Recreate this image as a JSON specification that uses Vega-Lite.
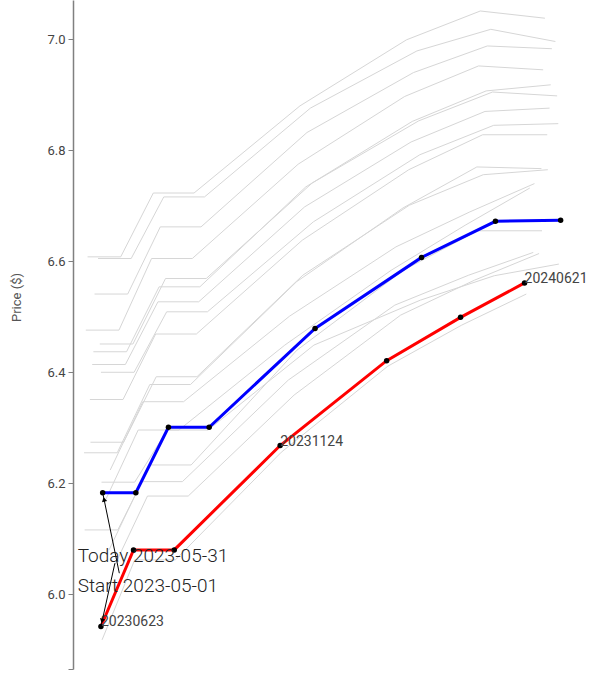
{
  "$schema": "https://vega.github.io/schema/vega-lite/v6.json",
  "width": 540,
  "height": 669,
  "autosize": {"type": "none"},
  "padding": {"left": 73, "top": 0, "right": 0, "bottom": 8},
  "config": {"view": {"stroke": null}, "font": "Roboto"},
  "datasets": {
    "curves": [
      {"c": "L1", "k": "grey", "d": 12.5, "p": 6.608}, {"c": "L1", "k": "grey", "d": 41, "p": 6.608}, {"c": "L1", "k": "grey", "d": 69, "p": 6.723}, {"c": "L1", "k": "grey", "d": 104, "p": 6.723}, {"c": "L1", "k": "grey", "d": 195, "p": 6.880}, {"c": "L1", "k": "grey", "d": 286.5, "p": 6.999}, {"c": "L1", "k": "grey", "d": 350, "p": 7.051}, {"c": "L1", "k": "grey", "d": 405.5, "p": 7.038},
      {"c": "L2", "k": "grey", "d": 21.5, "p": 6.605}, {"c": "L2", "k": "grey", "d": 50, "p": 6.605}, {"c": "L2", "k": "grey", "d": 78, "p": 6.716}, {"c": "L2", "k": "grey", "d": 113, "p": 6.716}, {"c": "L2", "k": "grey", "d": 204, "p": 6.876}, {"c": "L2", "k": "grey", "d": 295.5, "p": 6.979}, {"c": "L2", "k": "grey", "d": 359, "p": 7.018}, {"c": "L2", "k": "grey", "d": 414.5, "p": 6.996},
      {"c": "L3", "k": "grey", "d": 18.5, "p": 6.541}, {"c": "L3", "k": "grey", "d": 47, "p": 6.541}, {"c": "L3", "k": "grey", "d": 75, "p": 6.662}, {"c": "L3", "k": "grey", "d": 110, "p": 6.662}, {"c": "L3", "k": "grey", "d": 201, "p": 6.832}, {"c": "L3", "k": "grey", "d": 292.5, "p": 6.940}, {"c": "L3", "k": "grey", "d": 356, "p": 6.988}, {"c": "L3", "k": "grey", "d": 411.5, "p": 6.983},
      {"c": "L4", "k": "grey", "d": 11, "p": 6.476}, {"c": "L4", "k": "grey", "d": 39.5, "p": 6.476}, {"c": "L4", "k": "grey", "d": 67.5, "p": 6.605}, {"c": "L4", "k": "grey", "d": 102.5, "p": 6.605}, {"c": "L4", "k": "grey", "d": 193.5, "p": 6.775}, {"c": "L4", "k": "grey", "d": 285, "p": 6.897}, {"c": "L4", "k": "grey", "d": 348.5, "p": 6.952}, {"c": "L4", "k": "grey", "d": 404, "p": 6.945},
      {"c": "L5", "k": "grey", "d": 23, "p": 6.451}, {"c": "L5", "k": "grey", "d": 51.5, "p": 6.451}, {"c": "L5", "k": "grey", "d": 79.5, "p": 6.569}, {"c": "L5", "k": "grey", "d": 114.5, "p": 6.569}, {"c": "L5", "k": "grey", "d": 205.5, "p": 6.741}, {"c": "L5", "k": "grey", "d": 297, "p": 6.853}, {"c": "L5", "k": "grey", "d": 360.5, "p": 6.905}, {"c": "L5", "k": "grey", "d": 416, "p": 6.898},
      {"c": "L6", "k": "grey", "d": 17.5, "p": 6.437}, {"c": "L6", "k": "grey", "d": 46, "p": 6.437}, {"c": "L6", "k": "grey", "d": 74, "p": 6.554}, {"c": "L6", "k": "grey", "d": 109, "p": 6.554}, {"c": "L6", "k": "grey", "d": 200, "p": 6.734}, {"c": "L6", "k": "grey", "d": 291.5, "p": 6.852}, {"c": "L6", "k": "grey", "d": 355, "p": 6.907}, {"c": "L6", "k": "grey", "d": 410.5, "p": 6.918},
      {"c": "L7", "k": "grey", "d": 16.5, "p": 6.414}, {"c": "L7", "k": "grey", "d": 45, "p": 6.414}, {"c": "L7", "k": "grey", "d": 73, "p": 6.527}, {"c": "L7", "k": "grey", "d": 108, "p": 6.527}, {"c": "L7", "k": "grey", "d": 199, "p": 6.698}, {"c": "L7", "k": "grey", "d": 290.5, "p": 6.815}, {"c": "L7", "k": "grey", "d": 354, "p": 6.870}, {"c": "L7", "k": "grey", "d": 409.5, "p": 6.876},
      {"c": "L8", "k": "grey", "d": 24, "p": 6.400}, {"c": "L8", "k": "grey", "d": 52.5, "p": 6.400}, {"c": "L8", "k": "grey", "d": 80.5, "p": 6.509}, {"c": "L8", "k": "grey", "d": 115.5, "p": 6.509}, {"c": "L8", "k": "grey", "d": 206.5, "p": 6.671}, {"c": "L8", "k": "grey", "d": 298, "p": 6.792}, {"c": "L8", "k": "grey", "d": 361.5, "p": 6.845}, {"c": "L8", "k": "grey", "d": 417, "p": 6.848},
      {"c": "L9", "k": "grey", "d": 14.5, "p": 6.351}, {"c": "L9", "k": "grey", "d": 43, "p": 6.351}, {"c": "L9", "k": "grey", "d": 71, "p": 6.469}, {"c": "L9", "k": "grey", "d": 106, "p": 6.469}, {"c": "L9", "k": "grey", "d": 197, "p": 6.638}, {"c": "L9", "k": "grey", "d": 288.5, "p": 6.765}, {"c": "L9", "k": "grey", "d": 352, "p": 6.828}, {"c": "L9", "k": "grey", "d": 407.5, "p": 6.828},
      {"c": "L10", "k": "grey", "d": 15, "p": 6.274}, {"c": "L10", "k": "grey", "d": 43.5, "p": 6.274}, {"c": "L10", "k": "grey", "d": 71.5, "p": 6.392}, {"c": "L10", "k": "grey", "d": 106.5, "p": 6.392}, {"c": "L10", "k": "grey", "d": 197.5, "p": 6.575}, {"c": "L10", "k": "grey", "d": 289, "p": 6.701}, {"c": "L10", "k": "grey", "d": 352.5, "p": 6.756}, {"c": "L10", "k": "grey", "d": 408, "p": 6.765},
      {"c": "L11", "k": "grey", "d": 9.5, "p": 6.255}, {"c": "L11", "k": "grey", "d": 38, "p": 6.255}, {"c": "L11", "k": "grey", "d": 66, "p": 6.378}, {"c": "L11", "k": "grey", "d": 101, "p": 6.378}, {"c": "L11", "k": "grey", "d": 192, "p": 6.563}, {"c": "L11", "k": "grey", "d": 283.5, "p": 6.696}, {"c": "L11", "k": "grey", "d": 347, "p": 6.770}, {"c": "L11", "k": "grey", "d": 402.5, "p": 6.767},
      {"c": "L12", "k": "grey", "d": 24.5, "p": 6.202}, {"c": "L12", "k": "grey", "d": 53, "p": 6.202}, {"c": "L12", "k": "grey", "d": 81, "p": 6.296}, {"c": "L12", "k": "grey", "d": 116, "p": 6.296}, {"c": "L12", "k": "grey", "d": 207, "p": 6.449}, {"c": "L12", "k": "grey", "d": 298.5, "p": 6.530}, {"c": "L12", "k": "grey", "d": 362, "p": 6.574}, {"c": "L12", "k": "grey", "d": 417.5, "p": 6.595},
      {"c": "L13", "k": "grey", "d": 10, "p": 6.116}, {"c": "L13", "k": "grey", "d": 38.5, "p": 6.116}, {"c": "L13", "k": "grey", "d": 66.5, "p": 6.233}, {"c": "L13", "k": "grey", "d": 101.5, "p": 6.233}, {"c": "L13", "k": "grey", "d": 192.5, "p": 6.440}, {"c": "L13", "k": "grey", "d": 284, "p": 6.584}, {"c": "L13", "k": "grey", "d": 347.5, "p": 6.655}, {"c": "L13", "k": "grey", "d": 403, "p": 6.655},
      {"c": "R1", "k": "grey", "d": 32, "p": 6.224}, {"c": "R1", "k": "grey", "d": 60, "p": 6.347}, {"c": "R1", "k": "grey", "d": 95, "p": 6.347}, {"c": "R1", "k": "grey", "d": 186, "p": 6.501}, {"c": "R1", "k": "grey", "d": 277.5, "p": 6.626}, {"c": "R1", "k": "grey", "d": 341, "p": 6.689}, {"c": "R1", "k": "grey", "d": 396.5, "p": 6.740},
      {"c": "R2", "k": "grey", "d": 28, "p": 6.170}, {"c": "R2", "k": "grey", "d": 56, "p": 6.296}, {"c": "R2", "k": "grey", "d": 91, "p": 6.296}, {"c": "R2", "k": "grey", "d": 182, "p": 6.449}, {"c": "R2", "k": "grey", "d": 273.5, "p": 6.584}, {"c": "R2", "k": "grey", "d": 337, "p": 6.665}, {"c": "R2", "k": "grey", "d": 392.5, "p": 6.732},
      {"c": "R3", "k": "grey", "d": 31, "p": 6.080}, {"c": "R3", "k": "grey", "d": 59, "p": 6.203}, {"c": "R3", "k": "grey", "d": 94, "p": 6.203}, {"c": "R3", "k": "grey", "d": 185, "p": 6.386}, {"c": "R3", "k": "grey", "d": 276.5, "p": 6.521}, {"c": "R3", "k": "grey", "d": 340, "p": 6.575}, {"c": "R3", "k": "grey", "d": 395.5, "p": 6.616},
      {"c": "R4", "k": "grey", "d": 36, "p": 6.053}, {"c": "R4", "k": "grey", "d": 64, "p": 6.177}, {"c": "R4", "k": "grey", "d": 99, "p": 6.177}, {"c": "R4", "k": "grey", "d": 190, "p": 6.359}, {"c": "R4", "k": "grey", "d": 281.5, "p": 6.503}, {"c": "R4", "k": "grey", "d": 345, "p": 6.566}, {"c": "R4", "k": "grey", "d": 400.5, "p": 6.614},
      {"c": "R5", "k": "grey", "d": 25, "p": 5.918}, {"c": "R5", "k": "grey", "d": 53, "p": 6.062}, {"c": "R5", "k": "grey", "d": 88, "p": 6.062}, {"c": "R5", "k": "grey", "d": 179, "p": 6.256}, {"c": "R5", "k": "grey", "d": 270.5, "p": 6.411}, {"c": "R5", "k": "grey", "d": 334, "p": 6.485}, {"c": "R5", "k": "grey", "d": 389.5, "p": 6.541},
      {"c": "Start", "k": "red", "d": 24, "p": 5.942}, {"c": "Start", "k": "red", "d": 52, "p": 6.080}, {"c": "Start", "k": "red", "d": 87, "p": 6.080}, {"c": "Start", "k": "red", "d": 178, "p": 6.268}, {"c": "Start", "k": "red", "d": 269.5, "p": 6.421}, {"c": "Start", "k": "red", "d": 333, "p": 6.499}, {"c": "Start", "k": "red", "d": 388, "p": 6.561},
      {"c": "Today", "k": "blue", "d": 25.5, "p": 6.183}, {"c": "Today", "k": "blue", "d": 54, "p": 6.183}, {"c": "Today", "k": "blue", "d": 82, "p": 6.301}, {"c": "Today", "k": "blue", "d": 117, "p": 6.301}, {"c": "Today", "k": "blue", "d": 208, "p": 6.479}, {"c": "Today", "k": "blue", "d": 299.5, "p": 6.607}, {"c": "Today", "k": "blue", "d": 363, "p": 6.672}, {"c": "Today", "k": "blue", "d": 419, "p": 6.674}
    ],
    "labels": [
      {"d": 24, "p": 5.942, "t": "20230623"},
      {"d": 178, "p": 6.268, "t": "20231124"},
      {"d": 388, "p": 6.561, "t": "20240621"}
    ],
    "notes": [
      {"d": 4, "p": 6.059, "t": "Today 2023-05-31"},
      {"d": 4, "p": 6.005, "t": "Start 2023-05-01"}
    ],
    "arrows": [
      {"d": 39.8, "p": 6.038, "d2": 25.5, "p2": 6.183, "hd": 26.7, "hp": 6.171, "a": 348},
      {"d": 36, "p": 6.056, "d2": 24, "p2": 5.942, "hd": 25, "hp": 5.952, "a": 193}
    ]
  },
  "layer": [
    {
      "data": {"name": "curves"},
      "transform": [{"filter": "datum.k == 'grey'"}],
      "mark": {"type": "line", "stroke": "#d6d6d6", "strokeWidth": 1},
      "encoding": {
        "x": {"field": "d", "type": "quantitative", "scale": {"domain": [0, 464], "nice": false, "zero": false}, "axis": null},
        "y": {"field": "p", "type": "quantitative", "scale": {"domain": [5.8654, 7.0708], "nice": false, "zero": false},
          "axis": {"title": "Price ($)", "values": [5.8654, 6.0, 6.2, 6.4, 6.6, 6.8, 7.0],
            "labelExpr": "datum.value < 5.9 ? '' : format(datum.value, '.1f')", "grid": false,
            "domainColor": "#808080", "domainWidth": 1.5, "tickColor": "#808080", "tickSize": 5, "tickWidth": 1,
            "labelColor": "#444444", "labelFontSize": 13, "labelPadding": 3,
            "titleColor": "#555555", "titleFontSize": 13, "titleFontWeight": "normal", "titleX": -50, "titleY": 297}},
        "detail": {"field": "c"}
      }
    },
    {
      "data": {"name": "curves"},
      "transform": [{"filter": "datum.k == 'red'"}],
      "mark": {"type": "line", "stroke": "#ff0000", "strokeWidth": 3},
      "encoding": {"x": {"field": "d", "type": "quantitative"}, "y": {"field": "p", "type": "quantitative"}}
    },
    {
      "data": {"name": "curves"},
      "transform": [{"filter": "datum.k == 'blue'"}],
      "mark": {"type": "line", "stroke": "#0000ff", "strokeWidth": 3},
      "encoding": {"x": {"field": "d", "type": "quantitative"}, "y": {"field": "p", "type": "quantitative"}}
    },
    {
      "data": {"name": "curves"},
      "transform": [{"filter": "datum.k != 'grey'"}],
      "mark": {"type": "point", "filled": true, "color": "#000000", "size": 30, "opacity": 1},
      "encoding": {"x": {"field": "d", "type": "quantitative"}, "y": {"field": "p", "type": "quantitative"}}
    },
    {
      "data": {"name": "labels"},
      "mark": {"type": "text", "align": "left", "baseline": "alphabetic", "fontSize": 14, "color": "#444444"},
      "encoding": {"x": {"field": "d", "type": "quantitative"}, "y": {"field": "p", "type": "quantitative"}, "text": {"field": "t"}}
    },
    {
      "data": {"name": "arrows"},
      "mark": {"type": "rule", "color": "#000000", "strokeWidth": 1},
      "encoding": {"x": {"field": "d", "type": "quantitative"}, "y": {"field": "p", "type": "quantitative"}, "x2": {"field": "d2"}, "y2": {"field": "p2"}}
    },
    {
      "data": {"name": "arrows"},
      "mark": {"type": "point", "shape": "triangle-up", "filled": true, "color": "#000000", "size": 28, "opacity": 1},
      "encoding": {"x": {"field": "hd", "type": "quantitative"}, "y": {"field": "hp", "type": "quantitative"}, "angle": {"field": "a", "type": "quantitative", "scale": null}}
    },
    {
      "data": {"name": "notes"},
      "mark": {"type": "text", "align": "left", "baseline": "alphabetic", "fontSize": 19, "fontWeight": 300, "color": "#222222"},
      "encoding": {"x": {"field": "d", "type": "quantitative"}, "y": {"field": "p", "type": "quantitative"}, "text": {"field": "t"}}
    }
  ]
}
